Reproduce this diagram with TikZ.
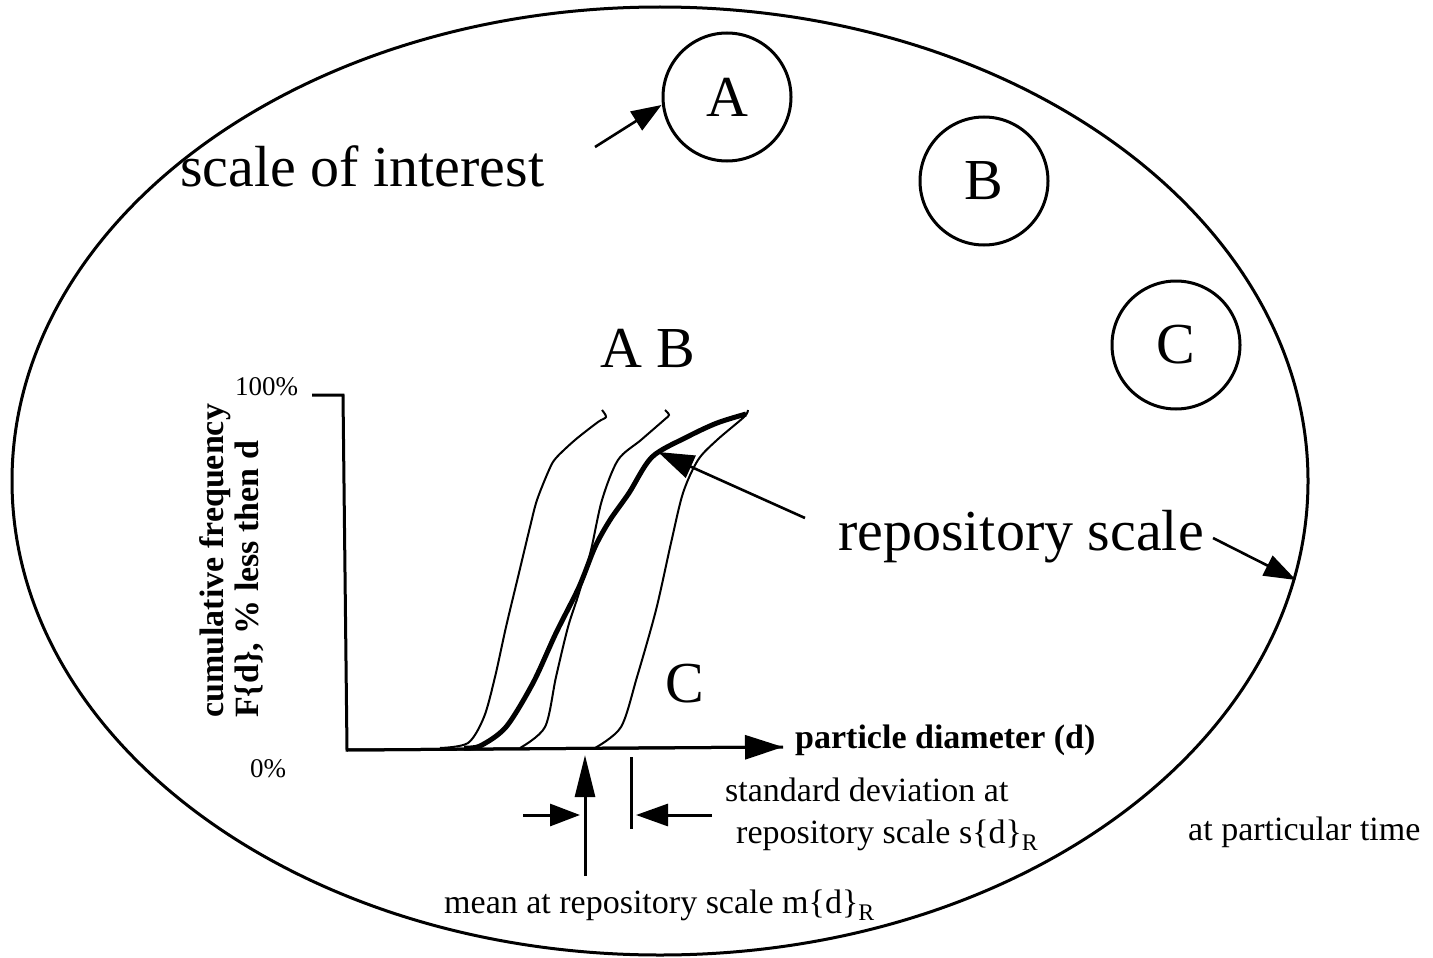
\documentclass[tikz,border=0pt]{standalone}
\usepackage{fontspec}
\setmainfont{Liberation Serif}
\usetikzlibrary{arrows.meta}
\tikzset{
  bigtxt/.style={font=\fontsize{58}{60}\selectfont, inner sep=0pt},
  smalltxt/.style={font=\fontsize{34}{36}\selectfont, inner sep=0pt},
  boldtxt/.style={font=\fontsize{34}{36}\selectfont\bfseries, inner sep=0pt},
  ticktxt/.style={font=\fontsize{27}{29}\selectfont, inner sep=0pt},
  scalecirc/.style={circle, draw, line width=3pt, minimum size=128pt, inner sep=0pt, font=\fontsize{58}{60}\selectfont},
  thincurve/.style={line width=2pt},
  thickcurve/.style={line width=5pt},
  pointer/.style={line width=2.6pt, -{Triangle[length=30pt,width=22pt]}},
}
\begin{document}
\begin{tikzpicture}[x=1pt,y=-1pt]
\useasboundingbox (0,0) rectangle (1433,958);
% outer repository ellipse
\draw[line width=3pt] (660,481) ellipse [x radius=648, y radius=474];
% scales of interest
\node[scalecirc] (cA) at (727,97) {A};
\node[scalecirc] (cB) at (984,181) {B};
\node[scalecirc] (cC) at (1176,345) {C};
\node[bigtxt, anchor=base west] (soi) at (180,186) {scale of interest};
\coordinate (soiTail) at (595,147);
\draw[pointer] (soiTail) -- (cA.west |- 0,105) ;
% graph axes
\coordinate (ytop) at (343,395);
\coordinate (ytick) at (312,395);
\coordinate (origin) at (347,750);
\coordinate (xend) at (783,747);
\draw[line width=3pt] (ytick) -- (ytop) -- (origin) -- (xend);
\draw[line width=3pt, -{Triangle[length=38pt,width=24pt]}] (origin) -- (xend);
\node[ticktxt, anchor=base west] (p100) at (235,395) {100\%};
\node[ticktxt, anchor=base west] (p0) at (250,777) {0\%};
\node[boldtxt, anchor=base west] (xlab) at (795,748) {particle diameter (d)};
\node[boldtxt, anchor=base west, rotate=90] (ylab1) at (223,718) {cumulative frequency};
\node[boldtxt, anchor=base west, rotate=90] (ylab2) at (258,718) {F\{d\}, \% less then d};
% curve labels
\node[bigtxt, anchor=base west] (labAB) at (600,367) {A B};
\node[bigtxt, anchor=base west] (labC) at (665,702) {C};
% curves
\draw[thincurve] plot[smooth, tension=0.5] coordinates {(440,748) (468,743) (484,717) (495,677) (506,627) (518,577) (530,527) (537,500) (549,470) (556,458) (575,440) (598,422) (606,417) (602,410)};
\draw[thincurve] plot[smooth, tension=0.5] coordinates {(520,748) (545,727) (556,677) (568,627) (579,593) (591,550) (602,500) (618,460) (641,440) (664,420) (669,415) (665,410)};
\draw[thincurve] plot[smooth, tension=0.5] coordinates {(595,748) (621,727) (637,677) (656,610) (671,543) (683,493) (698,460) (717,440) (744,417) (748,410)};
\draw[thickcurve] plot[smooth, tension=0.5] coordinates {(464,748) (480,746) (506,727) (533,683) (556,633) (579,587) (595,547) (610,520) (629,493) (652,457) (687,437) (717,423) (746,414)};
% repository scale labels
\node[bigtxt, anchor=base west] (rep) at (838,550) {repository scale};
\coordinate (repTail) at (805,518);
\coordinate (repTip) at (658,452);
\draw[pointer, -{Triangle[length=36pt,width=24pt]}] (repTail) -- (repTip);
\coordinate (rep2Tail) at (1213,538);
\coordinate (rep2Tip) at (1296,580);
\draw[pointer, -{Triangle[length=32pt,width=22pt]}] (rep2Tail) -- (rep2Tip);
% mean and standard deviation
\coordinate (meanBot) at (585,876);
\coordinate (meanTip) at (585,755);
\draw[line width=3pt, -{Triangle[length=42pt,width=20pt]}] (meanBot) -- (meanTip);
\coordinate (sdTop) at (631,757);
\coordinate (sdBot) at (631,829);
\draw[line width=3pt] (sdTop) -- (sdBot);
\coordinate (sdLtail) at (523,815);
\coordinate (sdLtip) at (580,815);
\coordinate (sdRtail) at (712,815);
\coordinate (sdRtip) at (636,815);
\draw[line width=3pt, -{Triangle[length=30pt,width=22pt]}] (sdLtail) -- (sdLtip);
\draw[line width=3pt, -{Triangle[length=32pt,width=22pt]}] (sdRtail) -- (sdRtip);
\node[smalltxt, anchor=base west] (sd1) at (725,801) {standard deviation at};
\node[smalltxt, anchor=base west] (sd2) at (736,843) {repository scale s\{d\}\textsubscript{R}};
\node[smalltxt, anchor=base west] (mean) at (444,913) {mean at repository scale m\{d\}\textsubscript{R}};
\node[smalltxt, anchor=base west] (time) at (1188,840) {at particular time};
\end{tikzpicture}
\end{document}
